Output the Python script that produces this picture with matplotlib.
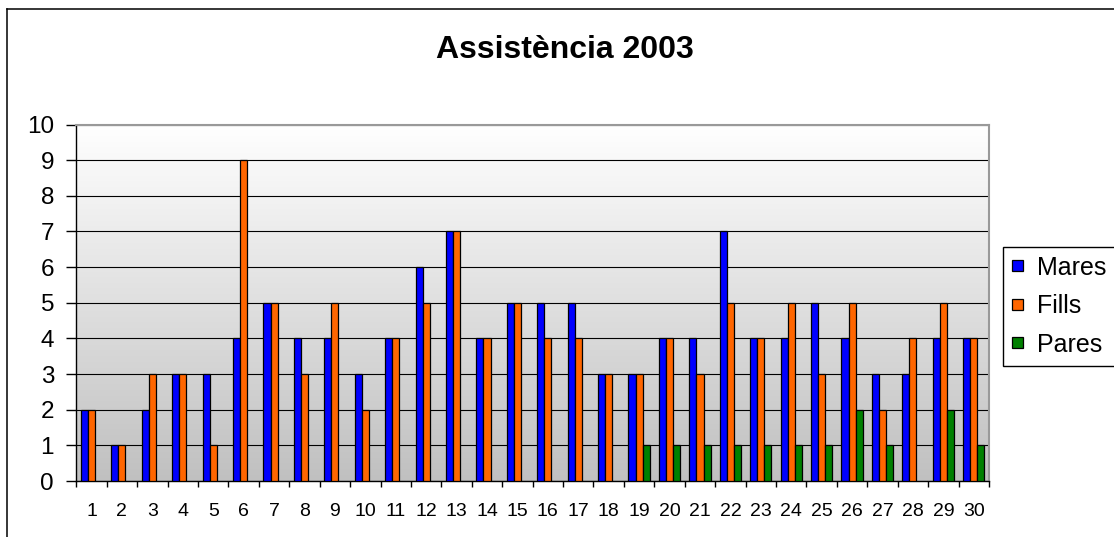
import matplotlib
matplotlib.use("Agg")
import matplotlib.pyplot as plt
import matplotlib.colors as mcolors
from matplotlib.lines import Line2D
import numpy as np

plt.rcParams["font.family"] = ["Liberation Sans", "DejaVu Sans"]

# data
days = [str(i) for i in range(1, 31)]
mares = [2, 1, 2, 3, 3, 4, 5, 4, 4, 3, 4, 6, 7, 4, 5, 5, 5, 3, 3, 4,
         4, 7, 4, 4, 5, 4, 3, 3, 4, 4]
fills = [2, 1, 3, 3, 1, 9, 5, 3, 5, 2, 4, 5, 7, 4, 5, 4, 4, 3, 3, 4,
         3, 5, 4, 5, 3, 5, 2, 4, 5, 4]
nan = np.nan
pares = [nan] * 18 + [1, 1, 1, 1, 1, 1, 1, 2, 1, nan, 2, 1]
series_names = ["Mares", "Fills", "Pares"]
series_colors = ["#0000FF", "#FF6600", "#008000"]
y_ticks = list(range(0, 11))

W, H = 1114, 537
fig = plt.figure(figsize=(W / 100, H / 100), dpi=100)
ax = fig.add_axes([76.3 / W, 1 - 481 / H, (989 - 76.3) / W, (481 - 124.5) / H])

x = np.arange(len(days))
bw = 0.233
bars = []
for i, (vals, col) in enumerate(zip([mares, fills, pares], series_colors)):
    b = ax.bar(x + (i - 1) * bw, vals, width=bw, color=col,
               edgecolor="black", linewidth=0.9, zorder=3)
    bars.append(b)

ax.set_xlim(-0.5, len(days) - 0.5)
ax.set_ylim(0, 10)

# grey gradient background of the plot area
cmap = mcolors.LinearSegmentedColormap.from_list("bg", ["#c0c0c0", "#ffffff"])
ax.imshow(np.linspace(1, 0, 256).reshape(-1, 1), cmap=cmap, aspect="auto",
          extent=[-0.5, len(days) - 0.5, 0, 10], zorder=0)

ax.set_yticks(y_ticks)
ax.yaxis.grid(True, color="black", linewidth=0.8, zorder=1)
ax.tick_params(axis="y", direction="out", length=7, width=1, labelsize=17.5, pad=9)

ax.set_xticks(np.arange(-0.5, len(days), 1))
ax.set_xticklabels([])
ax.set_xticks(x, minor=True)
ax.set_xticklabels(days, minor=True)
ax.tick_params(axis="x", which="major", direction="out", length=4.5, width=1)
ax.tick_params(axis="x", which="minor", length=0, labelsize=14, pad=16)

for s in ["left", "bottom"]:
    ax.spines[s].set_color("black")
    ax.spines[s].set_linewidth(1)
for s in ["top", "right"]:
    ax.spines[s].set_color("#999999")
    ax.spines[s].set_linewidth(1.5)

fig.text(565 / W, 1 - 50 / H, "Assistència 2003", ha="center", va="center",
         fontsize=23, fontweight="bold")

leg = fig.legend([b[0] for b in bars], series_names, loc="upper left",
                 bbox_to_anchor=(1003 / W, 1 - 247 / H), fontsize=18,
                 frameon=True, fancybox=False, framealpha=1, edgecolor="black",
                 borderaxespad=0, borderpad=0.35, handlelength=0.45,
                 handleheight=0.32, handletextpad=0.55, labelspacing=0.58)
leg.get_frame().set_linewidth(1)

# outer chart frame
fx = 7.3 / W
fy = 1 - 9.3 / H
fig.add_artist(Line2D([fx, fx], [0, fy], transform=fig.transFigure,
                      color="black", linewidth=1.1))
fig.add_artist(Line2D([fx, 1], [fy, fy], transform=fig.transFigure,
                      color="black", linewidth=1.1))

fig.savefig("out.png", dpi=100)
